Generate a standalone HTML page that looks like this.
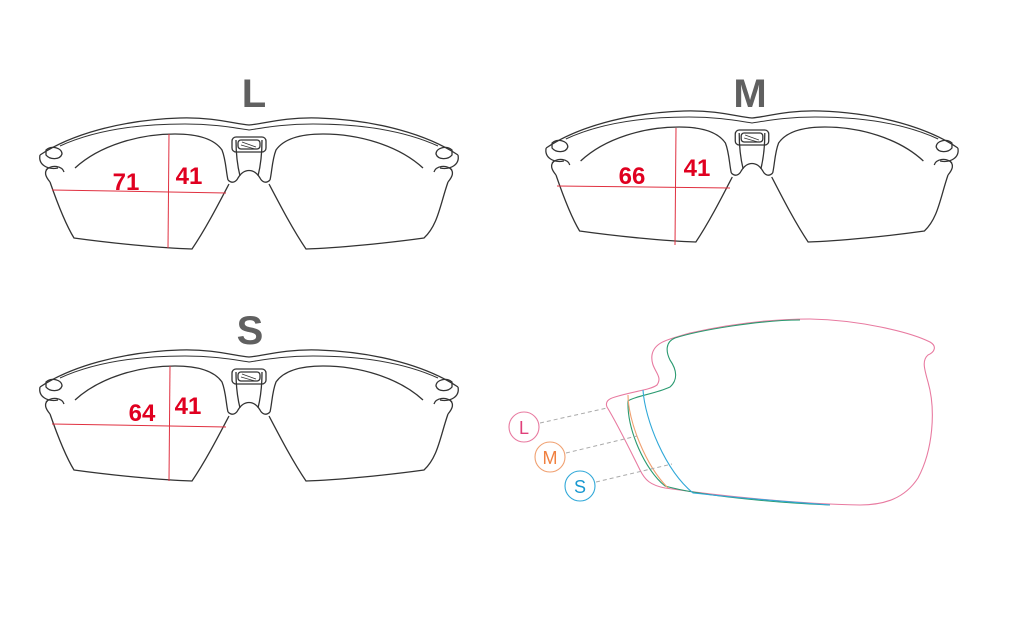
<!DOCTYPE html>
<html><head><meta charset="utf-8"><style>
html,body{margin:0;padding:0;background:#fff;}
svg{display:block}
.t{font-family:"Liberation Sans",sans-serif;font-weight:bold;}
</style></head><body>
<svg width="1010" height="632" viewBox="0 0 1010 632" xmlns="http://www.w3.org/2000/svg">
<defs>
<g id="fr" fill="none" stroke="#333" stroke-width="1.3" stroke-linejoin="round">
  <path d="M40,155 C70,135 120,120 180,118 C215,117 235,124 249,125 C263,124 283,117 318,118 C378,120 428,135 458,155"/>
  <path d="M60,146 C95,130 140,124 185,124 C215,124 235,128 249,130 C263,128 283,124 313,124 C358,124 403,130 438,146" stroke-width="1"/>
  <path d="M40,155 C38,165 48,170 58,168"/>
  <path d="M458,155 C460,165 450,170 440,168"/>
  <path d="M46,150 C52,145 62,148 62,154 C60,160 50,160 46,155 Z"/>
  <path d="M452,150 C446,145 436,148 436,154 C438,160 448,160 452,155 Z"/>
  <path d="M46,170 C52,164 62,166 64,172"/>
  <path d="M452,170 C446,164 436,166 434,172"/>
  <path d="M75,168 C100,145 140,134 175,134 C200,134 215,140 222,150 C226,160 226,172 228,180"/>
  <path d="M423,168 C398,145 358,134 323,134 C298,134 283,140 276,150 C272,160 272,172 270,180"/>
  <path d="M236,140 C236,155 238,168 240,176"/>
  <path d="M262,140 C262,155 260,168 258,176"/>
  <path d="M228,180 C232,184 236,182 238,178 C244,168 254,168 260,178 C262,182 266,184 270,180"/>
  <rect x="232" y="137" width="34" height="15" rx="4"/>
  <rect x="238" y="140" width="22" height="9" rx="3"/>
  <path d="M242,142 l14,5 M241,145 l14,4" stroke-width="0.8"/>
  <path d="M50,182 C58,205 66,225 74,238 C110,243 160,248 192,249 C205,230 218,205 229,184"/>
  <path d="M448,182 C440,205 438,225 424,238 C388,243 338,248 306,249 C293,230 280,205 269,184"/>
  <path d="M50,182 C45,176 44,172 48,168"/>
  <path d="M448,182 C453,176 454,172 450,168"/>
</g>
</defs>

<text class="t" x="254" y="107" font-size="40" fill="#606060" text-anchor="middle">L</text>
<use href="#fr"/>
<g stroke="#e03040" stroke-width="1">
<line x1="52" y1="190" x2="226" y2="193"/><line x1="169" y1="134" x2="168" y2="248"/>
</g>
<text class="t" x="126" y="190" font-size="24" fill="#e00020" text-anchor="middle">71</text>
<text class="t" x="189" y="184" font-size="24" fill="#e00020" text-anchor="middle">41</text>

<text class="t" x="750" y="107" font-size="40" fill="#606060" text-anchor="middle">M</text>
<g transform="translate(752,-7) scale(0.985,1) translate(-249,0)"><use href="#fr"/></g>
<g stroke="#e03040" stroke-width="1">
<line x1="557" y1="186" x2="730" y2="188"/><line x1="676" y1="128" x2="675" y2="245"/>
</g>
<text class="t" x="632" y="184" font-size="24" fill="#e00020" text-anchor="middle">66</text>
<text class="t" x="697" y="176" font-size="24" fill="#e00020" text-anchor="middle">41</text>

<text class="t" x="250" y="344" font-size="40" fill="#606060" text-anchor="middle">S</text>
<g transform="translate(0,232)"><use href="#fr"/></g>
<g stroke="#e03040" stroke-width="1">
<line x1="52" y1="424" x2="226" y2="427"/><line x1="170" y1="366" x2="169" y2="481"/>
</g>
<text class="t" x="142" y="421" font-size="24" fill="#e00020" text-anchor="middle">64</text>
<text class="t" x="188" y="414" font-size="24" fill="#e00020" text-anchor="middle">41</text>

<g fill="none" stroke-width="1.1">
<path stroke="#e87aa0" d="M607,407 C605,402 608,399 615,397 C635,391 650,390 657,385 C664,375 650,370 652,355 C654,343 665,340 690,333 C730,324 770,319 810,319 C860,320 910,332 930,342 C937,346 935,352 928,355 C922,360 924,368 928,382 C936,410 933,450 918,478 C905,498 885,505 860,505 C800,504 720,496 665,488 C650,485 645,480 640,470 C630,450 618,425 607,407 Z"/>
<path stroke="#2a9a70" d="M800,320 C760,320 700,330 675,338 C665,342 666,352 670,360 C677,370 678,380 670,387 C655,394 635,396 628,401 C627,430 645,470 665,486 C700,496 780,503 830,505"/>
<path stroke="#f0a070" d="M628,395 C628,420 645,465 668,488"/>
<path stroke="#30a8d8" d="M643,390 C645,420 665,470 693,493 C730,497 790,502 830,505"/>
</g>
<g stroke="#aaa" stroke-width="1" stroke-dasharray="4,3">
<line x1="540" y1="423" x2="607" y2="408"/>
<line x1="566" y1="453" x2="637" y2="436"/>
<line x1="596" y1="482" x2="672" y2="464"/>
</g>
<g fill="#fff" stroke-width="1.1">
<circle cx="524" cy="427" r="15" stroke="#e87aa0"/>
<circle cx="550" cy="457" r="15" stroke="#f0a070"/>
<circle cx="580" cy="486" r="15" stroke="#30a8d8"/>
</g>
<g font-family="Liberation Sans,sans-serif" font-size="18" text-anchor="middle">
<text x="524" y="434" fill="#e0407a">L</text>
<text x="550" y="464" fill="#f08040">M</text>
<text x="580" y="493" fill="#1898d0">S</text>
</g>
</svg>
</body></html>
